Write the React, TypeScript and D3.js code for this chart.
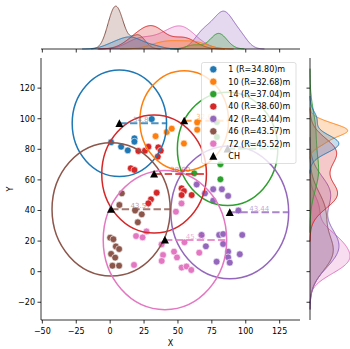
import React from 'react';
import * as d3 from 'd3';

// ---- data ----
const clusterIds = ['1', '10', '14', '40', '42', '46', '72'];
const radii = [34.8, 32.68, 37.04, 38.6, 43.44, 43.57, 45.52];
const colors = ['#1f77b4', '#ff7f0e', '#2ca02c', '#d62728', '#9467bd', '#8c564b', '#e377c2'];
const chX = [6.8, 54.6, 86.6, 32.4, 88.2, 0.7, 40.4];
const chY = [97, 98.7, 80.3, 63.9, 38.8, 40.8, 20.7];

const c1X = [17.9, 17.9, 0.7, 8.1, 13, 30.7];
const c1Y = [87.2, 85, 84.6, 81.7, 79.3, 99.8];
const c10X = [33.5, 41.7, 45.4, 54.4, 64.2, 64.2];
const c10Y = [88.6, 91.3, 93.5, 83.8, 97.6, 92.8];
const c14X = [62, 81.3, 81.3, 78.7, 78.7];
const c14Y = [64.3, 70.2, 60.4, 97.8, 88];
const c40X = [20.8, 25.7, 28.2, 35.5, 37.3, 35.1, 15.2, 17.9, 34.3, 30.1, 28.2, 52.7, 54.4, 52.7, 60.1];
const c40Y = [78.9, 79.1, 81.7, 81.3, 79.1, 75.2, 67.6, 66.5, 51.6, 47.3, 44.7, 54.5, 52.7, 50.1, 50.1];
const c42X = [63.8, 69.9, 76, 82.4, 87, 76, 94.6, 67.4, 70.6, 80.4, 83.3, 83.3, 97.4, 87, 87, 88.2, 78.5, 95.6];
const c42Y = [57, 51.2, 53.9, 53.9, 49.5, 46.4, 40, 24, 16.6, 24, 24.6, 18.1, 24, 13.1, 9.4, 5.9, 6.5, 11.4];
const c46X = [8.6, 6.8, 18.4, 23.3, 20.4, 0, 2.4, 4.2, 6.6, 0.7, 3.7, 1.7, 6.6];
const c46Y = [51.2, 43.6, 40, 37.5, 32.3, 22.2, 21.2, 16.5, 14.8, 11.6, 9.2, 3.9, 3.9];
const c72X = [52.6, 48.5, 19.1, 23.9, 26.8, 17.6, 37.9, 39, 38, 47.1, 49.3, 54.8, 52.7, 56.3, 59.8, 65.7];
const c72Y = [44.6, 39.2, 23.3, 22.4, 26.3, 4.4, 17.8, 10.9, 7, 13.1, 9.3, 19.2, 2.7, 3.4, 1.1, 12.4];

const pointsX = [c1X, c10X, c14X, c40X, c42X, c46X, c72X];
const pointsY = [c1Y, c10Y, c14Y, c40Y, c42Y, c46Y, c72Y];

const xTicks = [-50, -25, 0, 25, 50, 75, 100, 125];
const yTicks = [-20, 0, 20, 40, 60, 80, 100, 120];
const xDomain = [-51, 140];
const yDomain = [-31.6, 139.7];

// ---- layout ----
const W = 350, H = 349;
const L = 41, R = 300, T = 58, B = 320;
const topBase = 49, topTop = 4;
const rightBase = 310, rightEnd = 352;
const FONT = 'DejaVu Sans, sans-serif';

function kde(vals: number[], N: number) {
  const n = vals.length;
  const mean = d3.mean(vals) as number;
  const sd = Math.sqrt(d3.sum(vals, (v) => (v - mean) ** 2) / (n - 1));
  const bw = sd * Math.pow(n, -0.2);
  const lo = (d3.min(vals) as number) - 3 * bw;
  const hi = (d3.max(vals) as number) + 3 * bw;
  const pts: [number, number][] = [];
  for (let i = 0; i < 200; i++) {
    const g = lo + ((hi - lo) * i) / 199;
    let s = 0;
    for (const v of vals) s += Math.exp(-0.5 * ((g - v) / bw) ** 2);
    const dens = s / (n * bw * Math.sqrt(2 * Math.PI));
    pts.push([g, (dens * n) / N]);
  }
  return pts;
}

export default function App() {
  const x = d3.scaleLinear().domain(xDomain).range([L, R]);
  const y = d3.scaleLinear().domain(yDomain).range([B, T]);
  const N = d3.sum(pointsX, (a) => a.length);
  const kx = pointsX.map((a) => kde(a, N));
  const ky = pointsY.map((a) => kde(a, N));
  const maxX = d3.max(kx, (k) => d3.max(k, (p) => p[1])) as number;
  const maxY = d3.max(ky, (k) => d3.max(k, (p) => p[1])) as number;
  const dTop = d3.scaleLinear().domain([0, maxX * 1.05]).range([topBase, topTop]);
  const dRight = d3.scaleLinear().domain([0, maxY * 1.05]).range([rightBase, rightEnd]);

  const areaTop = d3.area<[number, number]>().x((p) => x(p[0])).y0(topBase).y1((p) => dTop(p[1]));
  const lineTop = d3.line<[number, number]>().x((p) => x(p[0])).y((p) => dTop(p[1]));
  const areaRight = d3.area<[number, number]>().y((p) => y(p[0])).x0(rightBase).x1((p) => dRight(p[1]));
  const lineRight = d3.line<[number, number]>().y((p) => y(p[0])).x((p) => dRight(p[1]));

  const order = d3.range(clusterIds.length).reverse();
  const tri = (cx: number, cy: number, s = 4) =>
    `M${cx},${cy - s}L${cx + s},${cy + s * 0.9}L${cx - s},${cy + s * 0.9}Z`;

  const legX = 201.5, legY = 62.5, legW = 94.5, legH = 101;
  const rowY = (i: number) => 69.3 + i * 12.4;

  return (
    <svg width={W} height={H} style={{ position: 'absolute', left: 0, top: 0 }} fontFamily={FONT}>
      <rect width={W} height={H} fill="#fff" />
      <defs>
        <clipPath id="mainclip"><rect x={L} y={T} width={R - L} height={B - T} /></clipPath>
      </defs>

      {/* top marginal */}
      {order.map((i) => (
        <g key={'tk' + i}>
          <path d={areaTop(kx[i]) as string} fill={colors[i]} fillOpacity={0.25} />
          <path d={lineTop(kx[i]) as string} fill="none" stroke={colors[i]} strokeWidth={1} />
        </g>
      ))}
      <line x1={L} x2={R} y1={topBase} y2={topBase} stroke="#000" strokeWidth={0.8} />
      {xTicks.map((t) => (
        <line key={'tx' + t} x1={x(t)} x2={x(t)} y1={topBase} y2={topBase + 3.5} stroke="#000" strokeWidth={0.8} />
      ))}

      {/* right marginal */}
      {order.map((i) => (
        <g key={'rk' + i}>
          <path d={areaRight(ky[i]) as string} fill={colors[i]} fillOpacity={0.25} />
          <path d={lineRight(ky[i]) as string} fill="none" stroke={colors[i]} strokeWidth={1} />
        </g>
      ))}
      <line x1={rightBase} x2={rightBase} y1={T} y2={B} stroke="#000" strokeWidth={0.8} />
      {yTicks.map((t) => (
        <line key={'ry' + t} x1={rightBase - 3.5} x2={rightBase} y1={y(t)} y2={y(t)} stroke="#000" strokeWidth={0.8} />
      ))}

      {/* main */}
      <g clipPath="url(#mainclip)">
        {pointsX.map((xs, i) =>
          xs.map((vx, j) => (
            <circle key={`p${i}-${j}`} cx={x(vx)} cy={y(pointsY[i][j])} r={3.4}
              fill={colors[i]} stroke="#fff" strokeWidth={0.6} />
          ))
        )}
        {radii.map((r, i) => (
          <ellipse key={'e' + i} cx={x(chX[i])} cy={y(chY[i])}
            rx={x(r) - x(0)} ry={y(0) - y(r)} fill="none" stroke={colors[i]} strokeWidth={1.5} />
        ))}
        {radii.map((r, i) => (
          <line key={'d' + i} x1={x(chX[i])} x2={x(chX[i] + r)} y1={y(chY[i])} y2={y(chY[i])}
            stroke={colors[i]} strokeOpacity={0.8} strokeWidth={2} strokeDasharray="7.4,3.2" />
        ))}
        {radii.map((r, i) => (
          <text key={'t' + i} x={x(chX[i] + r / 2)} y={y(chY[i]) - 1.5} fontSize={7}
            textAnchor="middle" fill={colors[i]} fillOpacity={0.6}>{r.toFixed(2)}</text>
        ))}
        {chX.map((cx, i) => (
          <path key={'ch' + i} d={tri(x(cx), y(chY[i]))} fill="#000" />
        ))}
      </g>

      {/* axes */}
      <line x1={L} x2={L} y1={T} y2={B} stroke="#000" strokeWidth={0.8} />
      <line x1={L} x2={R} y1={B} y2={B} stroke="#000" strokeWidth={0.8} />
      {xTicks.map((t) => (
        <g key={'mx' + t}>
          <line x1={x(t)} x2={x(t)} y1={B} y2={B + 3.5} stroke="#000" strokeWidth={0.8} />
          <text x={x(t)} y={B + 14.3} fontSize={8} textAnchor="middle" fill="#000">
            {t < 0 ? '\u2212' + Math.abs(t) : String(t)}
          </text>
        </g>
      ))}
      {yTicks.map((t) => (
        <g key={'my' + t}>
          <line x1={L - 3.5} x2={L} y1={y(t)} y2={y(t)} stroke="#000" strokeWidth={0.8} />
          <text x={L - 6} y={y(t) + 2.9} fontSize={8} textAnchor="end" fill="#000">
            {t < 0 ? '\u2212' + Math.abs(t) : String(t)}
          </text>
        </g>
      ))}
      <text x={(L + R) / 2} y={345.5} fontSize={8} textAnchor="middle">X</text>
      <text transform={`translate(13,${(T + B) / 2}) rotate(-90)`} fontSize={8} textAnchor="middle">Y</text>

      {/* legend */}
      <rect x={legX} y={legY} width={legW} height={legH} rx={2} fill="#fff" fillOpacity={0.8}
        stroke="#ccc" strokeOpacity={0.8} strokeWidth={0.8} />
      {clusterIds.map((id, i) => (
        <g key={'lg' + i}>
          <circle cx={213.3} cy={rowY(i)} r={3.6} fill={colors[i]} stroke="#fff" strokeWidth={0.6} />
          <text x={228.3} y={rowY(i) + 2.9} fontSize={8} fill="#000">{`${id} (R=${radii[i].toFixed(2)})m`}</text>
        </g>
      ))}
      <path d={tri(213.3, rowY(7))} fill="#000" />
      <text x={228.3} y={rowY(7) + 2.9} fontSize={8} fill="#000">CH</text>
    </svg>
  );
}
